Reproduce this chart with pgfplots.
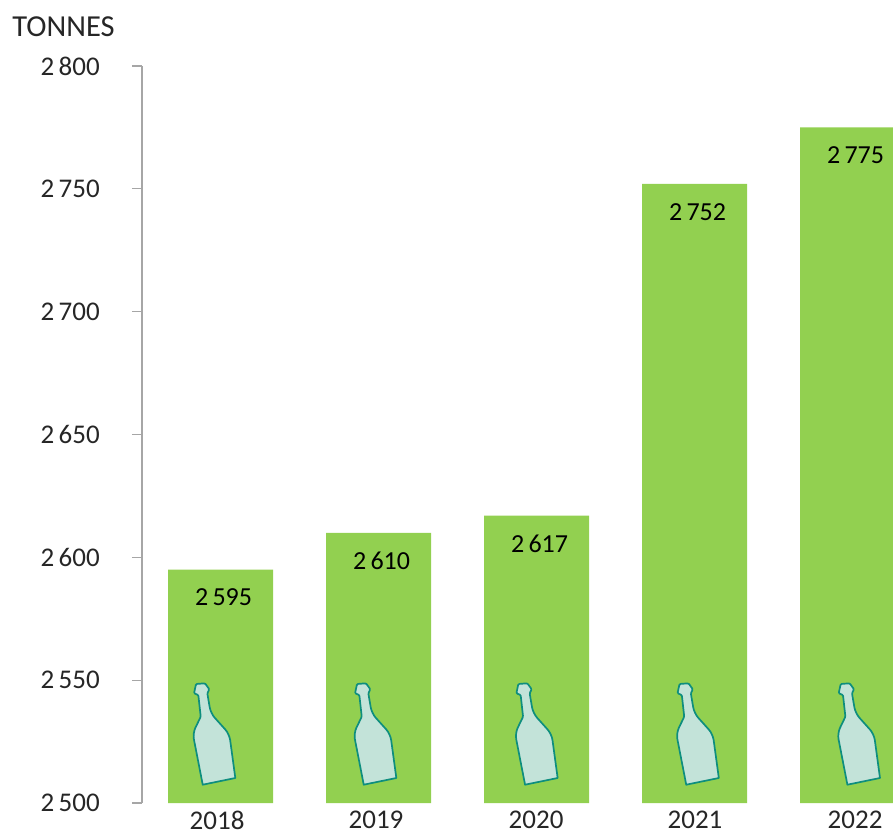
\documentclass[border=0pt]{standalone}
\usepackage{fontspec}
\setmainfont{Carlito}
\usepackage{pgfplots}
\pgfplotsset{compat=1.18}
\definecolor{barg}{HTML}{92D050}
\definecolor{axg}{HTML}{A6A6A6}
\definecolor{txt}{HTML}{262626}
\definecolor{bfill}{HTML}{C3E3D9}
\definecolor{bline}{HTML}{0E8E7E}
\pgfdeclareplotmark{bottle}{%
  \draw[draw=bline,fill=bfill,line width=1.7pt,line join=round]
   (-17.8pt,18.3pt)--(14.8pt,25pt)[rounded corners=6pt]--(8.8pt,69pt)--(-9.8pt,89.7pt)[rounded corners=1pt]--(-13.2pt,109.7pt)--(-11.2pt,113.7pt)
   --(-15.5pt,119.7pt)--(-24.5pt,119pt)--(-26.5pt,109.7pt)--(-22.2pt,108pt)--(-19.8pt,86.3pt)[rounded corners=6pt]--(-27.8pt,69.7pt)[sharp corners]--cycle;
}
\begin{document}
\begin{tikzpicture}[x=1pt,y=1pt]
\path[use as bounding box] (-142,-29) rectangle (751,803);
\begin{axis}[
  at={(0pt,0pt)},anchor=south west,
  scale only axis,width=751pt,height=737pt,
  xmin=-0.497,xmax=4.256,ymin=2500,ymax=2800,
  axis y line=left,axis x line*=bottom,
  axis line style={-,draw=axg,line width=1.3pt},
  x axis line style={draw=none},
  ytick={2500,2550,2600,2650,2700,2750,2800},
  xtick={-0.022,0.984,1.997,3.003,4.016},
  xticklabels={2018,2019,2020,2021,2022},
  tick align=outside,
  major tick length=10pt,
  y tick style={draw=axg,line width=1.3pt},
  x tick style={draw=none},
  tick label style={font=\fontsize{27}{30}\selectfont,text=txt},
  yticklabel style={xshift=-32pt,inner sep=0pt,anchor=east},
  xticklabel style={inner sep=0pt,anchor=center,yshift=-7pt},
  /pgf/number format/.cd,1000 sep={\,},assume math mode=true,
]
\addplot[ybar,bar width=105pt,bar shift=0pt,fill=barg,draw=none,
  nodes near coords,
  every node near coord/.append style={anchor=center,yshift=-28pt,xshift=3pt,
     font=\fontsize{26}{29}\selectfont,text=black,inner sep=0pt},
] coordinates {(0,2595)(1,2610)(2,2617)(3,2752)(4,2775)};
\addplot[only marks,mark=bottle] coordinates {(0,2500)(1.019,2500)(2.04,2500)(3.06,2500)(4.08,2500)};
\end{axis}
\node[font=\fontsize{30.5}{33}\selectfont,text=txt,inner sep=0pt] at (-78.5,776) {TONNES};
\end{tikzpicture}
\end{document}
